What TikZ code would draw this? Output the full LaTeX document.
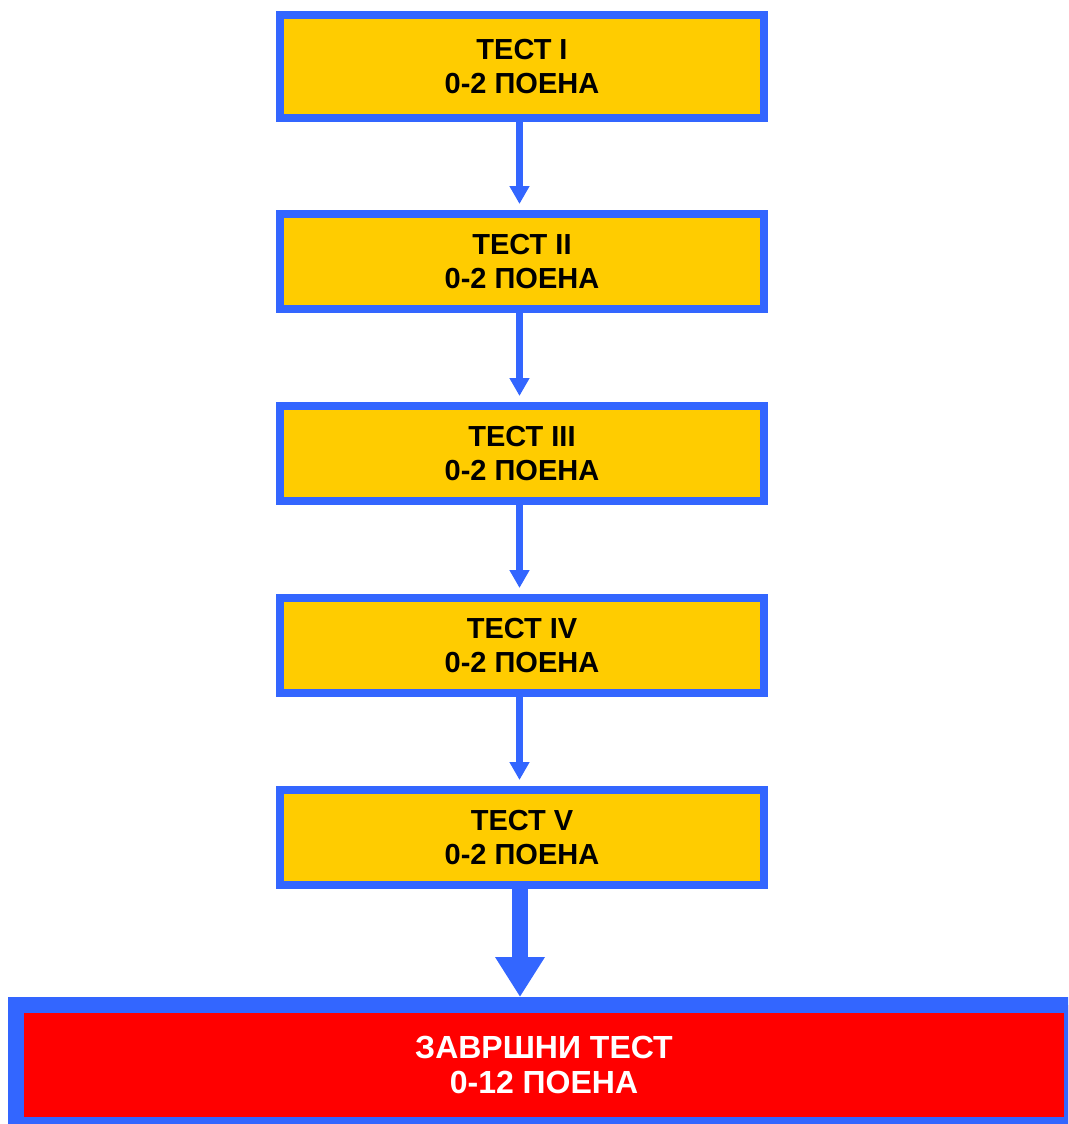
\documentclass[tikz,border=0pt]{standalone}
\usepackage{fontspec}
\setmainfont{Liberation Sans}
\usetikzlibrary{arrows.meta}

\definecolor{boxblue}{HTML}{3366FF}
\definecolor{boxyellow}{HTML}{FFCC00}
\definecolor{boxred}{HTML}{FF0000}

\tikzset{
  testbox/.style={rectangle, draw=boxblue, line width=8pt, fill=boxyellow,
    minimum width=484pt, minimum height=95pt, align=center,
    font=\fontsize{29}{34}\selectfont\bfseries},
  finalbox/.style={rectangle, draw=boxblue, line width=16pt, fill=boxred,
    text=white, minimum width=1056pt, minimum height=120pt, align=center,
    font=\fontsize{32}{35}\selectfont\bfseries},
  thinarrow/.style={draw=boxblue, line width=7pt,
    -{Triangle[length=18pt, width=19pt]}, shorten >=6pt},
  thickarrow/.style={draw=boxblue, line width=16pt,
    -{Triangle[length=40pt, width=47pt]}, shorten >=0pt}
}

\begin{document}
\begin{tikzpicture}[x=1pt, y=-1pt]
\useasboundingbox (0,0) rectangle (1068,1124);
\clip (0,0) rectangle (1068,1124);

% the five tests
\node[testbox, minimum height=103pt] (t1) at (522,66.5) {ТЕСТ I\\0-2 ПОЕНА};
\node[testbox] (t2) at (522,261.5) {ТЕСТ II\\0-2 ПОЕНА};
\node[testbox] (t3) at (522,453.5) {ТЕСТ III\\0-2 ПОЕНА};
\node[testbox] (t4) at (522,645.5) {ТЕСТ IV\\0-2 ПОЕНА};
\node[testbox] (t5) at (522,837.5) {ТЕСТ V\\0-2 ПОЕНА};

% final test
\node[finalbox] (final) at (544,1065) {ЗАВРШНИ ТЕСТ\\0-12 ПОЕНА};

\draw[thinarrow] ([xshift=-2.5pt]t1.south) -- ([xshift=-2.5pt]t2.north);
\draw[thinarrow] ([xshift=-2.5pt]t2.south) -- ([xshift=-2.5pt]t3.north);
\draw[thinarrow] ([xshift=-2.5pt]t3.south) -- ([xshift=-2.5pt]t4.north);
\draw[thinarrow] ([xshift=-2.5pt]t4.south) -- ([xshift=-2.5pt]t5.north);

% big arrow down
\draw[thickarrow] ([xshift=-2pt]t5.south) -- ([xshift=-24pt]final.north);

\end{tikzpicture}
\end{document}
